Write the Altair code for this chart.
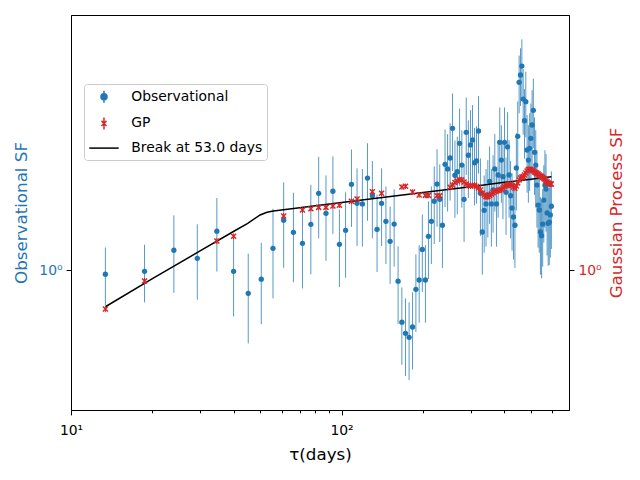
import altair as alt
import pandas as pd

# lag grid (days)
tau = [13.4, 18.7, 24.0, 29.3, 34.6, 39.9, 45.2, 50.5, 55.8, 61.1,
       66.4, 71.7, 77.0, 82.3, 87.6, 92.9, 98.2, 103.5, 108.8, 114.1,
       119.4, 124.7, 130.0, 135.3, 140.6, 145.9, 151.2, 156.5, 161.8, 167.1,
       172.4, 177.7, 183.0, 188.3, 193.6, 198.9, 204.2, 209.5, 214.8, 220.1,
       225.4, 230.7, 236.0, 241.3, 246.6, 251.9, 257.2, 262.5, 267.8, 273.1,
       278.4, 283.7, 289.0, 294.3, 299.6, 304.9, 310.2, 315.5, 320.8, 326.1,
       331.4, 336.7, 342.0, 347.3, 352.6, 357.9, 363.2, 368.5, 373.8, 379.1,
       384.4, 389.7, 395.0, 400.3, 405.6, 410.9, 416.2, 421.5, 426.8, 432.1,
       437.4, 442.7, 448.0, 453.3, 458.6, 463.9, 469.2, 474.5, 479.8, 485.1,
       490.4, 495.7, 501.0, 506.3, 511.6, 516.9, 522.2, 527.5, 532.8, 538.1,
       543.4, 548.7, 554.0, 559.3, 564.6, 569.9, 575.2, 580.5, 585.8, 591.1,
       596.4]

obs_sf = [0.978, 0.993, 1.109, 1.063, 1.225, 0.993, 0.885, 0.953, 1.120, 1.297,
          1.218, 1.150, 1.270, 1.494, 1.345, 1.510, 1.144, 1.231, 1.566, 1.418,
          1.413, 1.618, 1.475, 1.237, 1.418, 1.290, 1.162, 1.272, 0.943, 0.761,
          0.718, 0.703, 0.742, 0.904, 0.949, 1.114, 0.949, 1.193, 1.290, 1.433,
          1.568, 1.448, 1.264, 1.739, 1.697, 1.797, 2.099, 1.642, 1.673, 1.941,
          1.732, 1.448, 2.056, 1.823, 1.924, 1.975, 1.753, 1.769, 2.070, 1.494,
          1.220, 1.367, 1.413, 1.481, 1.591, 1.413, 1.520, 1.697, 1.413, 1.644,
          1.951, 1.778, 1.630, 1.951, 1.502, 1.904, 1.644, 1.475, 1.383, 1.320,
          1.264, 1.706, 2.013, 2.671, 2.775, 2.908, 2.447, 2.184, 2.413, 1.874,
          1.778, 1.891, 1.992, 2.136, 2.307, 1.851, 1.732, 1.560, 1.405, 1.369,
          1.220, 1.197, 1.272, 1.442, 1.560, 1.528, 1.348, 1.277, 1.284, 1.334,
          1.396]

obs_err = [0.147, 0.149, 0.222, 0.207, 0.233, 0.209, 0.204, 0.200, 0.258, 0.285,
           0.280, 0.242, 0.292, 0.314, 0.296, 0.302, 0.229, 0.271, 0.313, 0.284,
           0.283, 0.324, 0.295, 0.247, 0.284, 0.258, 0.232, 0.254, 0.189, 0.152,
           0.144, 0.141, 0.148, 0.181, 0.190, 0.223, 0.190, 0.239, 0.258, 0.287,
           0.314, 0.290, 0.253, 0.348, 0.339, 0.359, 0.420, 0.328, 0.335, 0.388,
           0.346, 0.290, 0.411, 0.365, 0.385, 0.395, 0.351, 0.354, 0.414, 0.299,
           0.244, 0.273, 0.283, 0.296, 0.318, 0.283, 0.304, 0.339, 0.283, 0.329,
           0.390, 0.356, 0.326, 0.390, 0.300, 0.381, 0.329, 0.295, 0.277, 0.264,
           0.253, 0.341, 0.403, 0.401, 0.416, 0.436, 0.416, 0.393, 0.410, 0.375,
           0.356, 0.378, 0.398, 0.427, 0.415, 0.370, 0.346, 0.312, 0.281, 0.274,
           0.244, 0.239, 0.254, 0.288, 0.312, 0.306, 0.270, 0.255, 0.257, 0.267,
           0.279]

# GP structure function on the same lags (None = not plotted)
N = None
gp_sf = [0.815, 0.944, N, N, 1.164, 1.193, N, N, N, 1.327,
         N, 1.369, 1.378, 1.388, 1.388, 1.398, 1.403, N, 1.433, 1.450,
         N, N, 1.506, N, 1.494, N, N, N, N, 1.544,
         1.550, N, 1.504, N, 1.481, N, 1.478, 1.478, N, N,
         1.475, 1.475, N, N, N, 1.542, 1.560, 1.581, 1.593, 1.606,
         1.602, 1.585, 1.568, 1.556, 1.552, 1.556, 1.558, 1.548, 1.536, 1.520,
         1.496, 1.481, 1.468, 1.468, 1.478, 1.488, 1.499, 1.508, 1.512, 1.516,
         1.520, 1.526, 1.536, 1.548, 1.556, 1.560, 1.564, 1.568, 1.556, 1.544,
         1.534, 1.552, 1.577, 1.602, 1.618, 1.627, 1.630, 1.644, 1.661, 1.679,
         1.692, 1.694, 1.692, 1.688, 1.679, 1.670, 1.663, 1.659, 1.653, 1.644,
         1.635, 1.630, 1.623, 1.614, 1.608, 1.593, 1.585, 1.574, 1.571, 1.568,
         1.568]

gp_err = [0.013, 0.015, N, N, 0.018, 0.018, N, N, N, 0.020,
          N, 0.020, 0.020, 0.020, 0.020, 0.020, 0.020, N, 0.020, 0.020,
          N, N, 0.022, N, 0.022, N, N, N, N, 0.022,
          0.022, N, 0.022, N, 0.022, N, 0.022, 0.022, N, N,
          0.022, 0.022, N, N, N, 0.024, 0.024, 0.024, 0.024, 0.024,
          0.024, 0.024, 0.024, 0.024, 0.024, 0.024, 0.024, 0.024, 0.024, 0.024,
          0.024, 0.024, 0.024, 0.024, 0.024, 0.024, 0.024, 0.024, 0.024, 0.024,
          0.024, 0.024, 0.024, 0.024, 0.024, 0.024, 0.024, 0.024, 0.024, 0.024,
          0.024, 0.024, 0.024, 0.024, 0.024, 0.024, 0.024, 0.024, 0.024, 0.024,
          0.024, 0.024, 0.024, 0.024, 0.024, 0.024, 0.024, 0.024, 0.024, 0.024,
          0.024, 0.024, 0.024, 0.024, 0.024, 0.024, 0.024, 0.024, 0.024, 0.024,
          0.024]

# broken power law fit
fit_tau = [13.4, 20, 30, 40, 45, 50, 53, 56, 60, 70, 100, 200, 300, 400, 500, 596.4]
fit_sf = [0.825, 0.956, 1.105, 1.225, 1.277, 1.334, 1.353, 1.362, 1.369, 1.386,
          1.424, 1.500, 1.547, 1.582, 1.608, 1.630]

series_names = ["Observational", "GP", "Break at 53.0 days"]
BLUE = "#1f77b4"
RED = "#d62728"
series_colors = [BLUE, RED, "black"]

x_major = [10, 100]
x_minor = [20, 30, 40, 50, 60, 70, 80, 90, 200, 300, 400, 500, 600]

obs = pd.DataFrame({"tau": tau, "sf": obs_sf, "err": obs_err})
obs["lo"] = obs["sf"] - obs["err"]
obs["hi"] = obs["sf"] + obs["err"]

gp = pd.DataFrame({"tau": tau, "sf": gp_sf, "err": gp_err}).dropna()
gp["lo"] = gp["sf"] - gp["err"]
gp["hi"] = gp["sf"] + gp["err"]

fit = pd.DataFrame({"tau": fit_tau, "sf": fit_sf})
key = pd.DataFrame({"series": series_names})

FONT = "DejaVu Sans"
x_scale = alt.Scale(type="log", domain=[10, 693], nice=False)
y_scale = alt.Scale(type="log", domain=[0.4806, 3.7986], nice=False)

x_axis = alt.Axis(
    values=x_major + x_minor,
    labelExpr="datum.value == 10 ? '10¹' : datum.value == 100 ? '10²' : ''",
    title="τ(days)", grid=False, tickColor="black",
    tickSize={"condition": {"test": "datum.value == 10 || datum.value == 100", "value": 4.9},
              "value": 2.8},
    domainColor="black", labelFont=FONT, labelFontSize=13.9,
    labelColor="black", labelPadding=9, labelOverlap=False, labelFlush=False,
    titleFont=FONT, titleFontSize=16.7, titleFontWeight="normal",
    titleColor="black", titlePadding=9,
)


def y_axis(title, color, orient, pad):
    return alt.Axis(
        orient=orient, values=[1], labelExpr="'10⁰'", title=title, grid=False,
        tickSize=4.9, tickColor="black", domainColor="black",
        labelFont=FONT, labelFontSize=13.9, labelColor=color, labelPadding=4,
        titleFont=FONT, titleFontSize=16.7, titleFontWeight="normal",
        titleColor=color, titleAngle=270, titlePadding=pad,
    )


left_axis = y_axis("Observational SF", BLUE, "left", 8)
right_axis = y_axis("Gaussian Process SF", RED, "right", 24)

# legend handles (unit = 7 px at symbolSize 196)
OBS_PATH = "M1.04,-0.86L1.04,0.86M0.61,0A0.43,0.43 0 1,0 1.47,0A0.43,0.43 0 1,0 0.61,0Z"
GP_PATH = "M1.04,-0.86L1.04,0.86M0.68,-0.36L1.4,0.36M0.68,0.36L1.4,-0.36"
LINE_PATH = "M-1.06,0L3.14,0"
X_PATH = "M-1,-1L1,1M-1,1L1,-1"

legend = alt.Legend(
    title=None, orient="none", legendX=13, legendY=69,
    padding=4.7, rowPadding=6.7, symbolSize=196, labelOffset=26.6,
    symbolStrokeWidth=1.5, symbolOpacity=1,
    labelFont=FONT, labelFontSize=13.9, labelColor="black",
    fillColor="rgba(255,255,255,0.8)", strokeColor="#cccccc", cornerRadius=3,
)

x_enc = alt.X("tau:Q", scale=x_scale, axis=x_axis)

obs_bars = alt.Chart(obs).mark_rule(color=BLUE, strokeWidth=1, opacity=0.75).encode(
    x=x_enc,
    y=alt.Y("lo:Q", scale=y_scale, axis=left_axis),
    y2="hi:Q",
)
obs_pts = alt.Chart(obs).mark_circle(size=28, opacity=1, color=BLUE).encode(
    x=x_enc,
    y=alt.Y("sf:Q", scale=y_scale, axis=left_axis),
)

fit_line = alt.Chart(fit).mark_line(color="black", strokeWidth=1.5).encode(
    x=x_enc,
    y=alt.Y("sf:Q", scale=y_scale, axis=right_axis),
)
gp_bars = alt.Chart(gp).mark_rule(color=RED, strokeWidth=1).encode(
    x=x_enc,
    y=alt.Y("lo:Q", scale=y_scale, axis=right_axis),
    y2="hi:Q",
)
gp_pts = alt.Chart(gp).mark_point(shape=X_PATH, filled=False, size=25, strokeWidth=1.5,
                                  color=RED, opacity=1).encode(
    x=x_enc,
    y=alt.Y("sf:Q", scale=y_scale, axis=right_axis),
)

# legend only: no rows survive the filter, the explicit domains keep the entries
key_layer = alt.Chart(key).mark_point(filled=True, opacity=1).encode(
    shape=alt.Shape("series:N", legend=legend,
                    scale=alt.Scale(domain=series_names, range=[OBS_PATH, GP_PATH, LINE_PATH])),
    fill=alt.Fill("series:N", legend=legend,
                  scale=alt.Scale(domain=series_names, range=series_colors)),
    stroke=alt.Stroke("series:N", legend=legend,
                      scale=alt.Scale(domain=series_names, range=series_colors)),
).transform_filter("datum.series == 'none'")

left = alt.layer(obs_bars, obs_pts)
right = alt.layer(fit_line, gp_bars, gp_pts)

chart = (
    alt.layer(left, right, key_layer)
    .resolve_scale(y="independent")
    .properties(width=498, height=395, autosize="none",
                padding={"left": 63, "top": 7, "right": 63, "bottom": 62})
    .configure(font=FONT)
    .configure_view(stroke="black", strokeWidth=1)
)

chart.save("out.html", embed_options={"renderer": "svg", "actions": False})
